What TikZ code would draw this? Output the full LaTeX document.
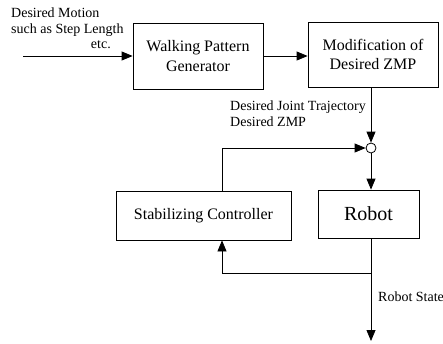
\documentclass[tikz,border=0pt]{standalone}
\usepackage{fontspec}
\setmainfont{Liberation Serif}
\usetikzlibrary{arrows.meta,positioning,calc}

\newcommand{\boxfont}{\fontsize{16}{19.5}\selectfont}
\newcommand{\robfont}{\fontsize{20}{24}\selectfont}
\newcommand{\lblfont}{\fontsize{14}{15.8}\selectfont}

\tikzset{
    block/.style={draw, line width=0.8pt, font=\boxfont, align=center, inner sep=0pt},
    sumnode/.style={draw, circle, line width=0.8pt, minimum size=10pt, inner sep=0pt},
    lbl/.style={font=\lblfont, inner sep=0pt, align=left},
    sig/.style={line width=0.8pt, -{Triangle[length=11pt,width=9pt]}},
    wire/.style={line width=0.8pt}
}

\begin{document}
\begin{tikzpicture}[x={(1pt,0)}, y={(0,-1pt)}]
    \useasboundingbox (0,0) rectangle (443,343);

    \node[block, minimum width=130pt, minimum height=66pt] (wpg) at (198,56)
        {Walking Pattern\\Generator};
    \node[block, minimum width=130pt, minimum height=65pt] (mzmp) at (373,54.5)
        {Modification of\\Desired ZMP};
    \node[sumnode] (sum) at (371,148) {};
    \node[block, minimum width=175pt, minimum height=49pt] (stab) at (203.5,215.5)
        {Stabilizing Controller};
    \node[block, font=\robfont, minimum width=101pt, minimum height=48pt] (robot) at (368.5,214)
        {Robot};

    \coordinate (in) at (23,56);
    \coordinate (fb) at (222,148);
    \coordinate (tap) at (371,273);
    \coordinate (out) at (371,341);

    \draw[sig] (in) -- (wpg.west);
    \draw[sig] (wpg.east) -- (wpg.east -| mzmp.west);
    \draw[sig] (sum |- mzmp.south) -- (sum.north);
    \draw[sig] (sum.south) -- (sum |- robot.north);
    \draw[sig] (stab.north -| fb) -- (fb) -- (sum.west);
    \draw[sig] (tap |- robot.south) -- (out);
    \draw[sig] (tap) -| (stab.south -| fb);

    \node[lbl, anchor=north west] (motion) at (11,7.5)
        {Desired Motion\\such as Step Length};
    \node[lbl, anchor=base east] (etc) at (111,48) {etc.};
    \node[lbl, anchor=north west] (traj) at (230,100.5)
        {Desired Joint Trajectory\\Desired ZMP};
    \node[lbl, anchor=base west] (state) at (378,301) {Robot State};
\end{tikzpicture}
\end{document}
